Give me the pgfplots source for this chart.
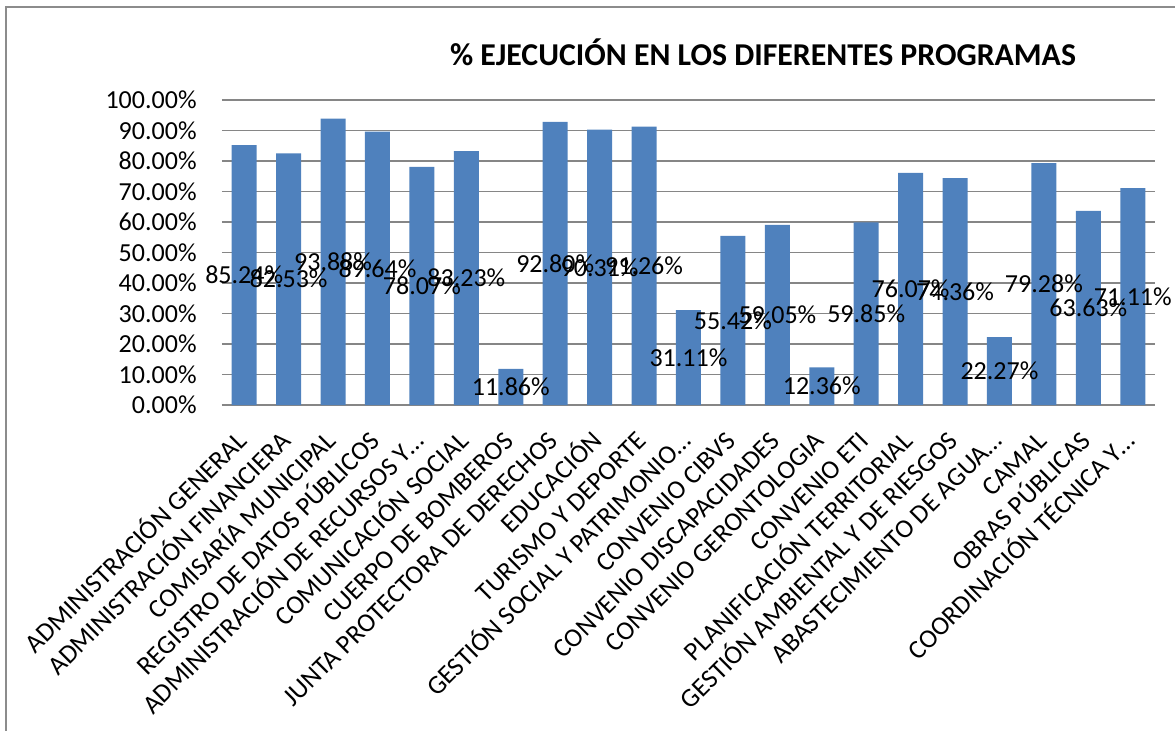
\documentclass[border=0pt]{standalone}
\usepackage{fontspec}
\setmainfont{Carlito}
\usepackage{pgfplots}
\pgfplotsset{compat=1.18}
\usepackage{pgfplotstable}
\definecolor{barblue}{HTML}{4F81BD}
\definecolor{gridgray}{HTML}{868686}
\definecolor{framegray}{HTML}{8C8C8C}
\pgfplotstableread{
x v
0 85.24
1 82.53
2 93.88
3 89.64
4 78.07
5 83.23
6 11.86
7 92.80
8 90.31
9 91.26
10 31.11
11 55.42
12 59.05
13 12.36
14 59.85
15 76.07
16 74.36
17 22.27
18 79.28
19 63.63
20 71.11
}\data
\begin{document}
\begin{tikzpicture}
\useasboundingbox (-111pt,-162.5pt) rectangle (476.5pt,202.5pt);
\draw[framegray, line width=1pt] (-108pt,-163pt) -- (-108pt,199pt) -- (477pt,199pt);
\begin{axis}[
  at={(0pt,0pt)}, anchor=south west, scale only axis,
  width=466.5pt, height=152.5pt,
  xmin=-0.5, xmax=20.5, ymin=0, ymax=100,
  axis x line*=bottom, axis y line*=left,
  x axis line style={gridgray, line width=0.75pt, -},
  y axis line style={draw=none},
  major tick length=0pt, tick style={draw=none},
  ymajorgrids, grid style={gridgray, line width=0.75pt},
  ytick={0,10,...,100},
  yticklabels={0.00\%,10.00\%,20.00\%,30.00\%,40.00\%,50.00\%,60.00\%,70.00\%,80.00\%,90.00\%,100.00\%},
  yticklabel style={anchor=east, inner sep=0pt, font=\fontsize{13}{15}\selectfont},
  yticklabel shift=12.5pt,
  xtick={0,...,20},
  xticklabels={ADMINISTRACIÓN GENERAL,ADMINISTRACIÓN FINANCIERA,COMISARÍA MUNICIPAL,REGISTRO DE DATOS PÚBLICOS,ADMINISTRACIÓN DE RECURSOS Y…,COMUNICACIÓN SOCIAL,CUERPO DE BOMBEROS,JUNTA PROTECTORA DE DERECHOS,EDUCACIÓN,TURISMO Y DEPORTE,GESTIÓN SOCIAL Y PATRIMONIO…,CONVENIO CIBVS,CONVENIO DISCAPACIDADES,CONVENIO GERONTOLOGIA,CONVENIO ETI,PLANIFICACIÓN TERRITORIAL,GESTIÓN AMBIENTAL Y DE RIESGOS,ABASTECIMIENTO DE AGUA…,CAMAL,OBRAS PÚBLICAS,COORDINACIÓN TÉCNICA Y…},
  xticklabel style={rotate=45, anchor=east, inner sep=0pt, text height=0.7em, text depth=0.1em, font=\fontsize{13.2}{15}\selectfont},
  xticklabel shift=16.5pt,
  clip=false,
]
\addplot[ybar, bar width=12.5pt, fill=barblue, draw=none] table[x=x, y=v] {\data};
\addplot[draw=none, mark=none,
  nodes near coords={\pgfmathprintnumber[fixed,fixed zerofill,precision=2,assume math mode=true]{\pgfplotspointmeta}\%},
  point meta=explicit,
  every node near coord/.style={anchor=center, inner sep=0pt, text=black, font=\fontsize{13}{15}\selectfont}]
  table[x=x, y expr=\thisrow{v}/2, meta=v] {\data};
\end{axis}
\node[font=\bfseries\fontsize{15.9}{19}\selectfont] at (270.5pt,176.5pt) {\% EJECUCIÓN EN LOS DIFERENTES PROGRAMAS};
\end{tikzpicture}
\end{document}
